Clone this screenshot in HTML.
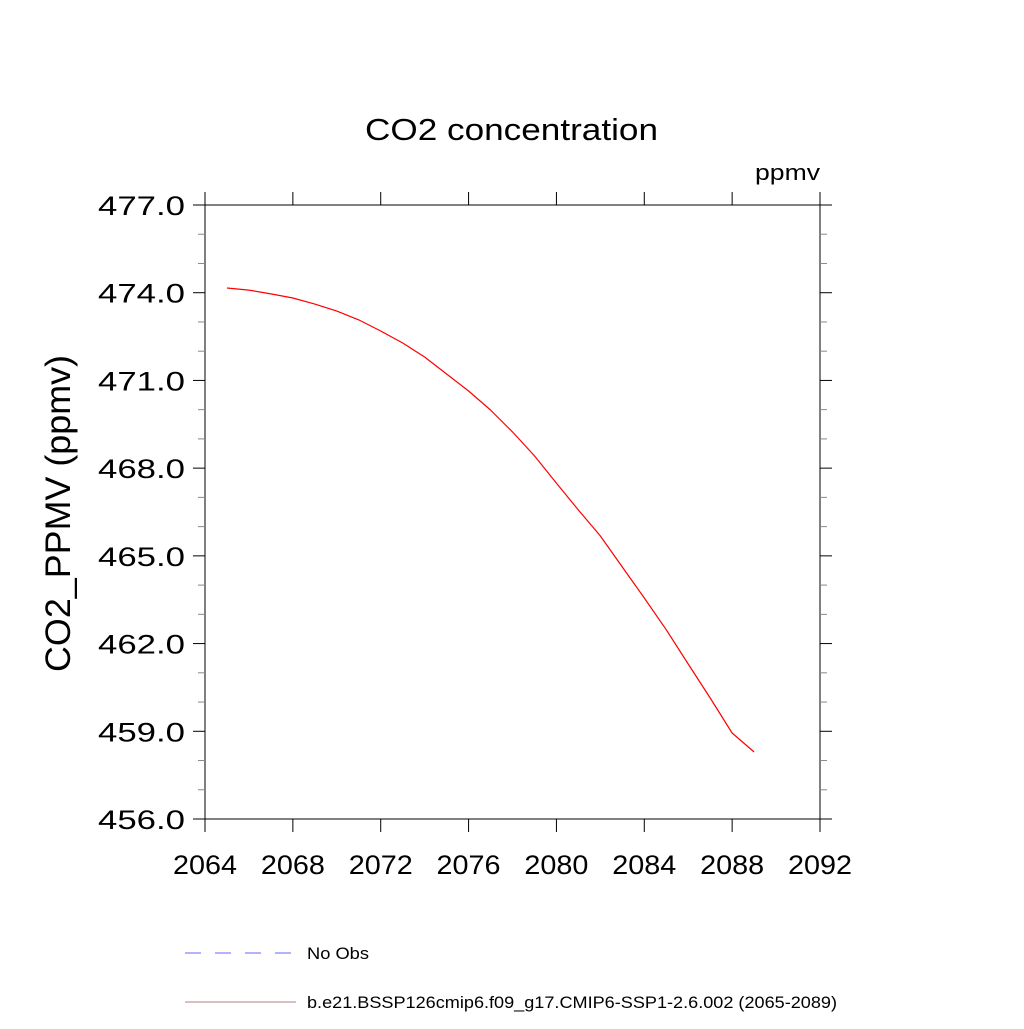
<!DOCTYPE html>
<html><head><meta charset="utf-8"><style>
html,body{margin:0;padding:0;background:#fff;}
svg text{font-family:"Liberation Sans",sans-serif;fill:#000;}
</style></head><body>
<svg id="chart" width="1024" height="1024" xmlns="http://www.w3.org/2000/svg">
<text x="365" y="140" font-size="31" textLength="293" lengthAdjust="spacingAndGlyphs">CO2 concentration</text>
<text x="755" y="180" font-size="22" textLength="65" lengthAdjust="spacingAndGlyphs">ppmv</text>
<text transform="translate(70,672) rotate(-90)" font-size="35" textLength="317" lengthAdjust="spacingAndGlyphs">CO2_PPMV  (ppmv)</text>
<g id="axes"></g>
<g id="series"></g>
<g>
<line x1="185" y1="953" x2="292" y2="953" stroke="#6666ff" stroke-width="1" stroke-dasharray="16,14"/>
<text x="307" y="959" font-size="17" textLength="62" lengthAdjust="spacingAndGlyphs">No Obs</text>
<line x1="185" y1="1002" x2="296" y2="1002" stroke="#b08080" stroke-width="1"/>
<text x="307" y="1008" font-size="17" textLength="530" lengthAdjust="spacingAndGlyphs">b.e21.BSSP126cmip6.f09_g17.CMIP6-SSP1-2.6.002 (2065-2089)</text>
</g>
</svg>
<script>
const years = [2065,2066,2067,2068,2069,2070,2071,2072,2073,2074,2075,2076,2077,2078,2079,2080,2081,2082,2083,2084,2085,2086,2087,2088,2089];
const co2 = [474.16,474.09,473.96,473.82,473.61,473.37,473.07,472.69,472.28,471.80,471.22,470.64,469.99,469.24,468.42,467.49,466.57,465.68,464.62,463.56,462.47,461.30,460.14,458.94,458.29];
const xTicks = [2064,2068,2072,2076,2080,2084,2088,2092];
const yTicks = [456,459,462,465,468,471,474,477];

const X0=205,X1=820,Y0=819,Y1=205;
const xMin=2064,xMax=2092,yMin=456,yMax=477;
function sx(v){return X0+(v-xMin)/(xMax-xMin)*(X1-X0);}
function sy(v){return Y0-(v-yMin)/(yMax-yMin)*(Y0-Y1);}
const NS='http://www.w3.org/2000/svg';
const axes=document.getElementById('axes');
function mk(tag,attrs,parent){const e=document.createElementNS(NS,tag);for(const k in attrs)e.setAttribute(k,attrs[k]);parent.appendChild(e);return e;}
const frame=mk('rect',{x:X0,y:Y1,width:X1-X0,height:Y0-Y1,fill:'none',stroke:'#000','stroke-width':1},axes);


xTicks.forEach(t=>{
  const x=sx(t);
  const b=mk('line',{x1:x,y1:Y0,x2:x,y2:Y0+13,stroke:'#000'},axes);
  
  
  const tp=mk('line',{x1:x,y1:Y1,x2:x,y2:Y1-13,stroke:'#000'},axes);
  
  
  const l=mk('text',{x:x-32,y:Y0+55,'font-size':27,textLength:64,lengthAdjust:'spacingAndGlyphs'},axes);
  l.textContent=t;
  
  
});
for(let v=yMin;v<=yMax;v++){
  const y=sy(v);const major=(v-yMin)%3===0;const len=major?12:7;
  const a=mk('line',{x1:X0-len,y1:y,x2:X0,y2:y,stroke:major?'#000':'#888'},axes);
  
  
  const c=mk('line',{x1:X1,y1:y,x2:X1+len,y2:y,stroke:major?'#000':'#888'},axes);
  
  
}
yTicks.forEach(t=>{
  const l=mk('text',{x:98,y:sy(t)+10,'font-size':27,textLength:87,lengthAdjust:'spacingAndGlyphs'},axes);
  l.textContent=t.toFixed(1);
  
  
});
const pts=years.map((y,i)=>sx(y).toFixed(1)+','+sy(co2[i]).toFixed(1)).join(' ');
const line=mk('polyline',{points:pts,fill:'none',stroke:'#ff0000','stroke-width':1.2,'stroke-linejoin':'round'},document.getElementById('series'));


</script>
</body></html>
